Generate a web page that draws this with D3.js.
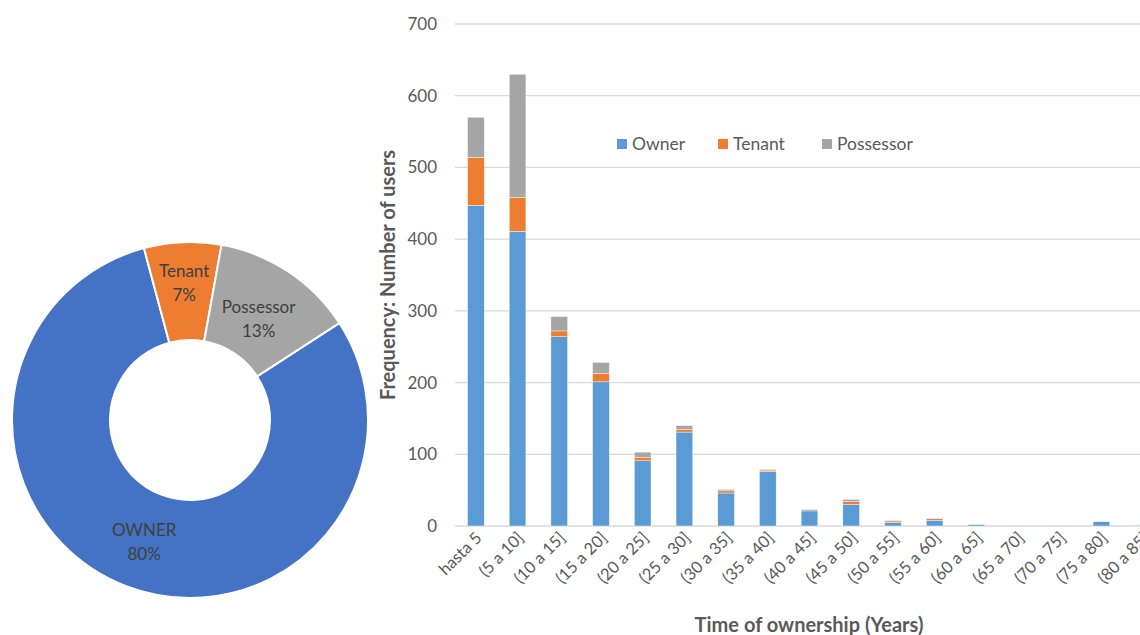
<!DOCTYPE html>
<html>
<head>
<meta charset="utf-8">
<script src="https://cdn.jsdelivr.net/npm/d3@7"></script>
<style>
  body { margin: 0; background: #fff; }
  svg text { font-family: Lato, "Open Sans", sans-serif; }
</style>
</head>
<body>
<svg id="chart" width="1140" height="635"></svg>
<script>
// donut data
var shareNames = ["OWNER", "Tenant", "Possessor"];
var shareValues = [80, 7, 13];
var shareColors = ["#4472C4", "#ED7D31", "#A5A5A5"];

// stacked bars data
var periods = ["hasta 5", "(5 a 10]", "(10 a 15]", "(15 a 20]", "(20 a 25]", "(25 a 30]",
  "(30 a 35]", "(35 a 40]", "(40 a 45]", "(45 a 50]", "(50 a 55]", "(55 a 60]",
  "(60 a 65]", "(65 a 70]", "(70 a 75]", "(75 a 80]", "(80 a 85]"];
var seriesNames = ["Owner", "Tenant", "Possessor"];
var owner     = [447, 411, 264, 201, 91, 131, 46, 76, 21, 30, 5, 8, 2, 0, 0, 6, 1];
var tenant    = [67, 47, 8, 12, 5, 4, 3, 2, 0, 4, 2, 2, 0, 0, 0, 0, 0];
var possessor = [56, 172, 20, 15, 7, 5, 2, 1, 2, 3, 1, 1, 0, 0, 0, 0, 0];
var seriesColors = ["#5B9BD5", "#ED7D31", "#A5A5A5"];
var yTicks = [0, 100, 200, 300, 400, 500, 600, 700];

var svg = d3.select("#chart");
var textColor = "#595959";

//----- donut
var pieGroup = svg.append("g").attr("transform", "translate(190,420)");
var pie = d3.pie().sort(null).value(function(d){ return d; })
  .startAngle(57 * Math.PI / 180).endAngle(57 * Math.PI / 180 + 2 * Math.PI);
var arc = d3.arc().innerRadius(80).outerRadius(178);
var arcs = pie(shareValues);

pieGroup.selectAll("path").data(arcs).enter().append("path")
  .attr("d", arc)
  .attr("fill", function(d, i){ return shareColors[i]; })
  .attr("stroke", "#fff")
  .attr("stroke-width", 2);

// label spots picked to sit like in the source
var labelRadius = [128, 140, 124];
pieGroup.selectAll("text.lbl").data(arcs).enter().append("text")
  .attr("class", "lbl")
  .attr("text-anchor", "middle")
  .attr("fill", "#404040")
  .style("font-size", "17px")
  .attr("transform", function(d, i){
    var a = (d.startAngle + d.endAngle) / 2;
    var r = labelRadius[i];
    return "translate(" + (Math.sin(a) * r) + "," + (-Math.cos(a) * r) + ")";
  })
  .each(function(d, i){
    var t = d3.select(this);
    t.append("tspan").attr("x", 0).attr("dy", "-0.2em").text(shareNames[i]);
    t.append("tspan").attr("x", 0).attr("dy", "1.4em").text(shareValues[i] + "%");
  });

//----- stacked bars
var plotLeft = 455, plotRight = 1164, plotTop = 24, plotBottom = 526;

var x = d3.scaleBand().domain(periods).range([plotLeft, plotRight]).paddingInner(0.6).paddingOuter(0.3);
var y = d3.scaleLinear().domain([0, 700]).range([plotBottom, plotTop]);

var rows = periods.map(function(p, i){
  return { period: p, Owner: owner[i], Tenant: tenant[i], Possessor: possessor[i] };
});
var stacked = d3.stack().keys(seriesNames)(rows);

// gridlines
svg.append("g").selectAll("line").data(yTicks).enter().append("line")
  .attr("x1", plotLeft).attr("x2", plotRight)
  .attr("y1", function(d){ return y(d); }).attr("y2", function(d){ return y(d); })
  .attr("stroke", "#d9d9d9").attr("stroke-width", 1.3);

svg.append("g").selectAll("text").data(yTicks).enter().append("text")
  .attr("x", plotLeft - 18).attr("y", function(d){ return y(d); })
  .attr("dy", "0.35em").attr("text-anchor", "end")
  .attr("fill", textColor).style("font-size", "17px")
  .text(function(d){ return d; });

svg.append("g").selectAll("g").data(stacked).enter().append("g")
  .attr("fill", function(d, i){ return seriesColors[i]; })
  .selectAll("rect").data(function(d){ return d; }).enter().append("rect")
  .attr("x", function(d){ return x(d.data.period); })
  .attr("width", x.bandwidth())
  .attr("y", function(d){ return y(d[1]); })
  .attr("height", function(d){ return y(d[0]) - y(d[1]); })
  .attr("stroke", "#fff").attr("stroke-width", 0.4);

// x labels
svg.append("g").selectAll("text").data(periods).enter().append("text")
  .attr("text-anchor", "end")
  .attr("fill", textColor).style("font-size", "16.5px")
  .attr("transform", function(d){
    return "translate(" + (x(d) + x.bandwidth() / 2 + 7) + "," + (plotBottom + 13) + ") rotate(-45)";
  })
  .text(function(d){ return d; });

// axis titles
svg.append("text")
  .attr("transform", "translate(395," + ((plotTop + plotBottom) / 2) + ") rotate(-90)")
  .attr("text-anchor", "middle").attr("fill", textColor)
  .style("font-size", "20px").style("font-weight", "bold")
  .text("Frequency: Number of users");

svg.append("text")
  .attr("x", 809).attr("y", 632)
  .attr("text-anchor", "middle").attr("fill", textColor)
  .style("font-size", "20px").style("font-weight", "bold")
  .text("Time of ownership (Years)");

// legend
var legendX = [617, 718, 822];
var legend = svg.append("g").selectAll("g").data(seriesNames).enter().append("g")
  .attr("transform", function(d, i){ return "translate(" + legendX[i] + ",144)"; });
legend.append("rect").attr("x", 0).attr("y", -5).attr("width", 10).attr("height", 10)
  .attr("fill", function(d, i){ return seriesColors[i]; });
legend.append("text").attr("x", 15).attr("dy", "0.35em")
  .attr("fill", textColor).style("font-size", "17.5px")
  .text(function(d){ return d; });
</script>
</body>
</html>
